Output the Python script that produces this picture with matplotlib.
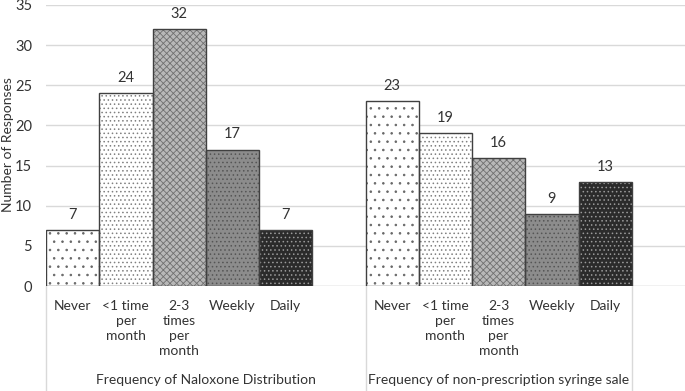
import matplotlib
matplotlib.use("Agg")
import matplotlib.pyplot as plt
import numpy as np

plt.rcParams['font.family'] = ['Lato', 'DejaVu Sans']

# Data
categories = ["Never", "<1 time\nper\nmonth", "2-3\ntimes\nper\nmonth", "Weekly", "Daily"]
naloxone = [7, 24, 32, 17, 7]
syringe = [23, 19, 16, 9, 13]
group_labels = ["Frequency of Naloxone Distribution",
                "Frequency of non-prescription syringe sale"]

# Excel-like pattern fills: (face, hatch, hatch colour)
fills = [("white", "..", "#666666"),
         ("white", "....", "#808080"),
         ("#b8b8b8", "xxxxx", "#707070"),
         ("#8c8c8c", "....", "#555555"),
         ("#2b2b2b", "....", "#9a9a9a")]

plt.rcParams['hatch.linewidth'] = 0.6

fig = plt.figure(figsize=(6.85, 3.91), dpi=100)
ax = fig.add_axes([46/685, 1 - 286/391, 1 - 46/685, (286 - 5)/391])

# slot positions: group 1 at 0-4, group 2 at 6-10
pos1 = np.arange(5)
pos2 = np.arange(5) + 6

for positions, values in [(pos1, naloxone), (pos2, syringe)]:
    for i, (x, v) in enumerate(zip(positions, values)):
        face, hatch, hcol = fills[i]
        ax.bar(x, v, width=1.0, align='edge', color=face, linewidth=0, zorder=2)
        ax.bar(x, v, width=1.0, align='edge', fill=False, hatch=hatch,
               edgecolor=hcol, linewidth=0, zorder=3)
        ax.bar(x, v, width=1.0, align='edge', fill=False,
               edgecolor="#404040", linewidth=1.0, zorder=4)
        ax.text(x + 0.5, v + 1.0, str(v), ha='center', va='bottom',
                fontsize=10.5, color="#333333")
        ax.text(x + 0.5, -1.8, categories[i], ha='center', va='top',
                fontsize=10, color="#333333", linespacing=1.3)

ax.set_xlim(0, 12)
ax.set_ylim(0, 35)
ax.set_yticks(np.arange(0, 36, 5))
ax.tick_params(axis='y', length=0, labelsize=10.5, labelcolor="#333333", pad=10)
ax.set_xticks([])
ax.grid(axis='y', color="#d9d9d9", linewidth=1.0, zorder=0)
ax.set_axisbelow(True)
for s in ax.spines.values():
    s.set_visible(False)

fig.text(8/685, 1 - 145/391, "Number of Responses", rotation=90,
         ha='center', va='center', fontsize=10, color="#333333")

# category axis box lines
ax.axhline(0, color="#d9d9d9", linewidth=1.0, zorder=1)
for xb in [0, 6, 11]:
    ax.plot([xb, xb], [0, -13.5], color="#d9d9d9", linewidth=1.0,
            clip_on=False, zorder=1)

ax.text(3.0, -11.7, group_labels[0], ha='center', va='center',
        fontsize=10, color="#333333")
ax.text(8.5, -11.7, group_labels[1], ha='center', va='center',
        fontsize=10, color="#333333")

fig.savefig("out.png", dpi=100)
